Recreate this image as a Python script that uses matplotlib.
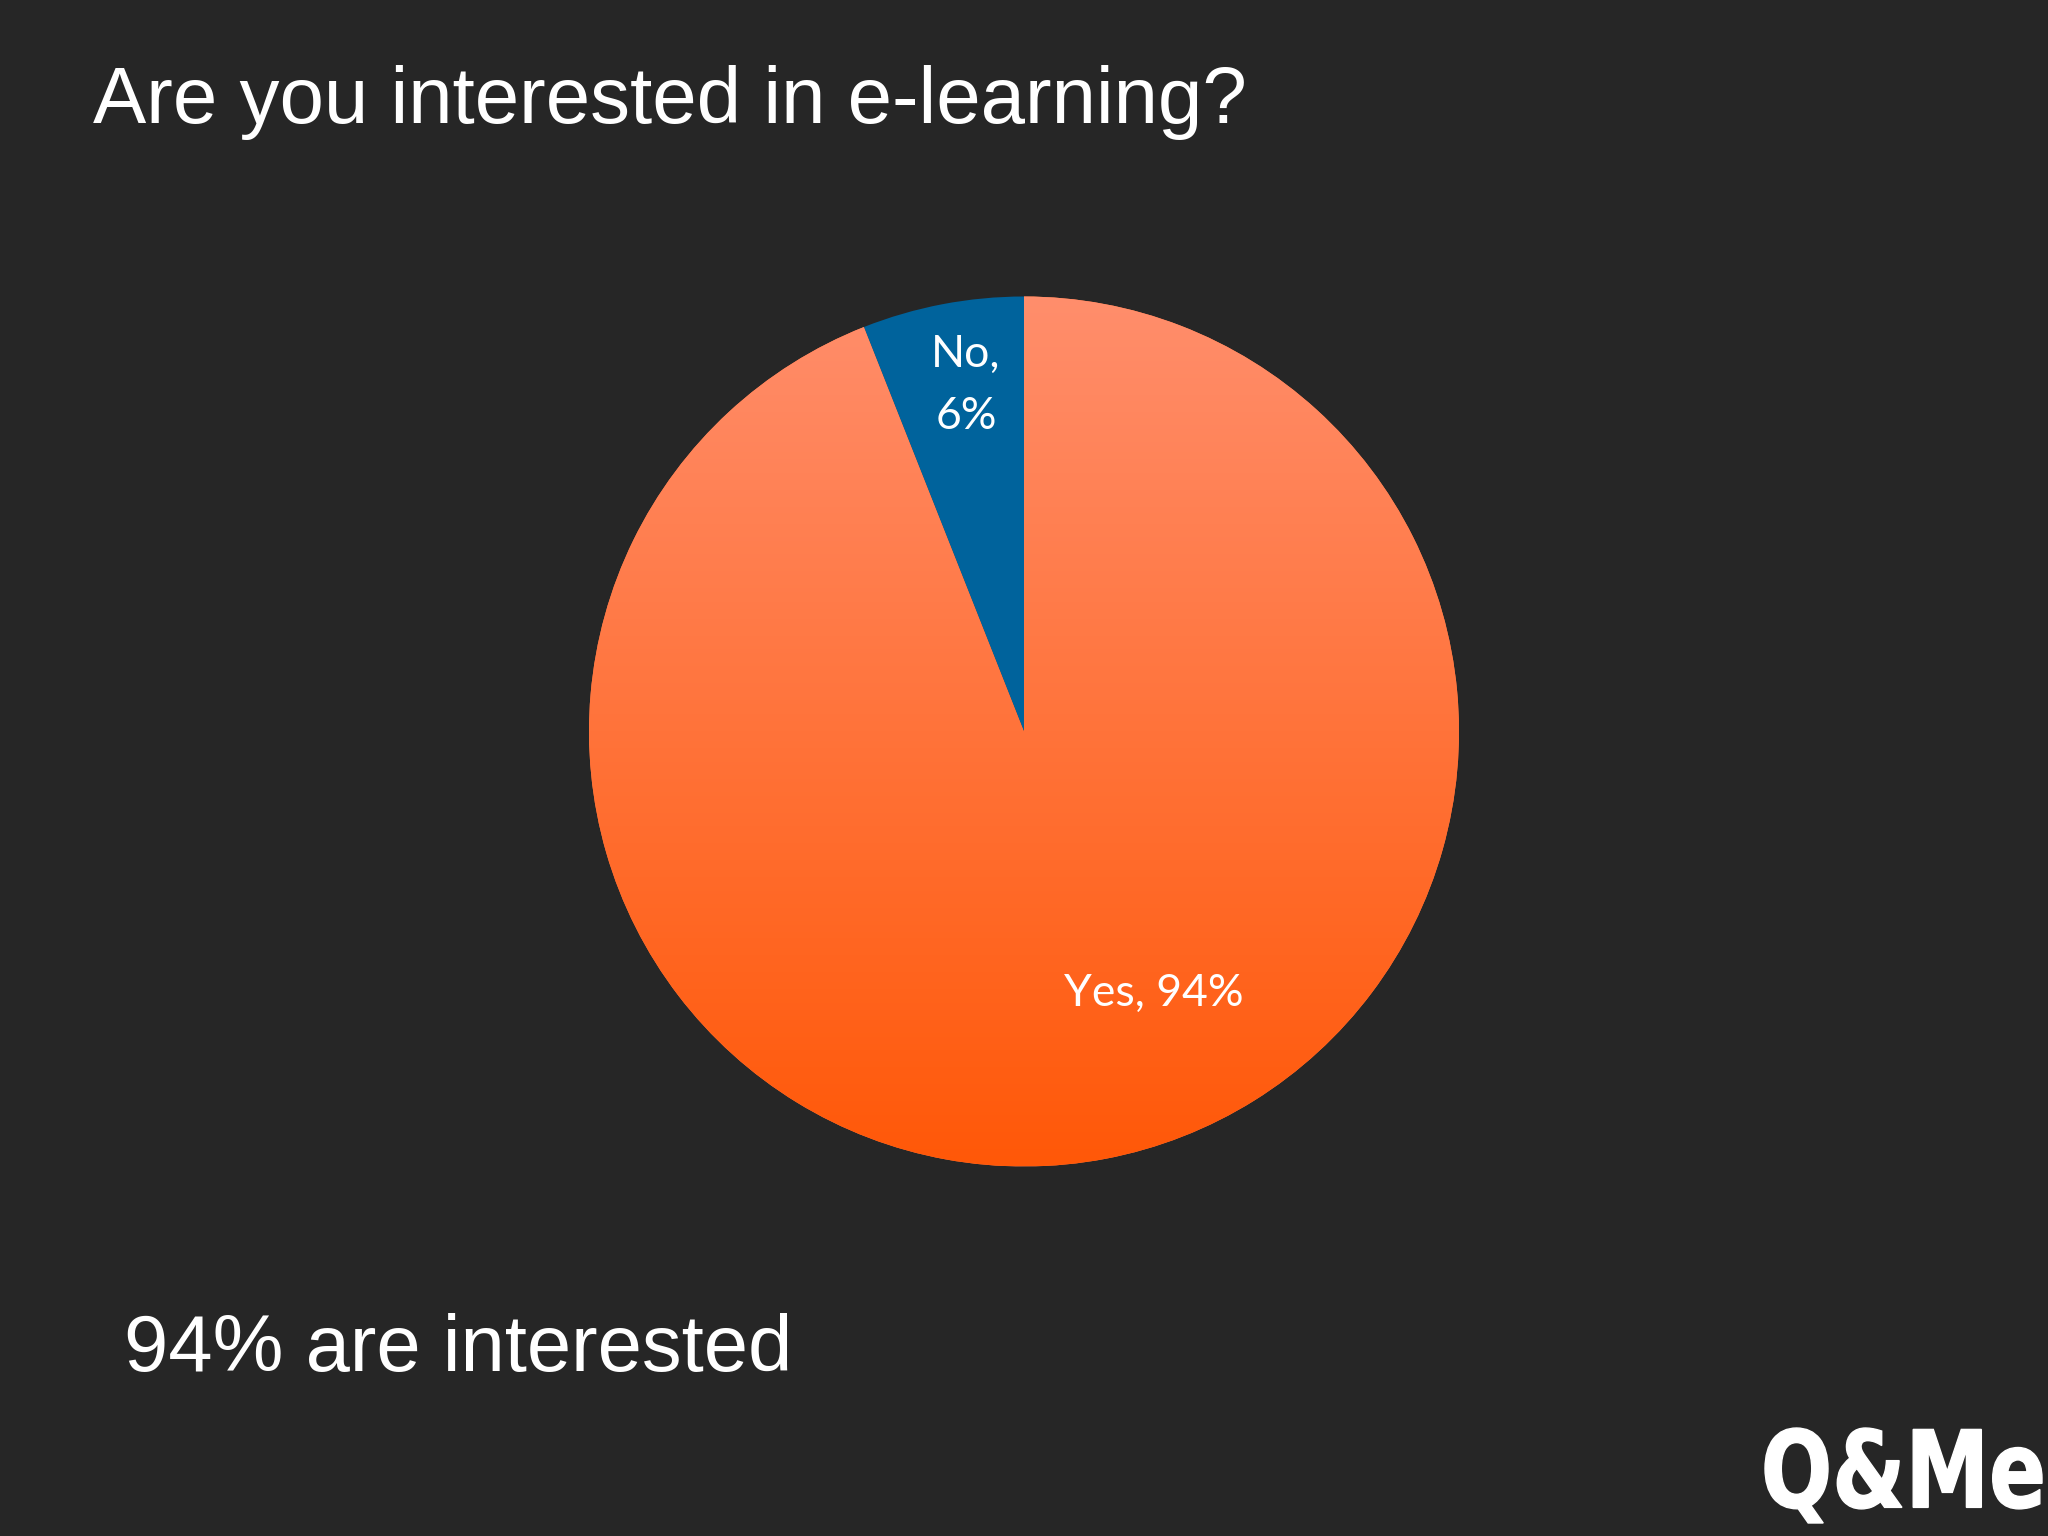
import numpy as np
import matplotlib
matplotlib.use("Agg")
import matplotlib.pyplot as plt
from matplotlib.textpath import TextPath
from matplotlib.font_manager import FontProperties
from matplotlib.patches import PathPatch
from matplotlib.transforms import Affine2D

# data
labels = ["Yes", "No"]
values = [94, 6]
title = "Are you interested in e-learning?"
summary = "94% are interested"

bg = "#262626"
blue = "#00639c"
grad_top = np.array([255, 142, 108]) / 255
grad_bot = np.array([255, 88, 8]) / 255

W, H = 2048, 1536
fig = plt.figure(figsize=(W / 100, H / 100), dpi=100, facecolor=bg)
ax = fig.add_axes([0, 0, 1, 1])
ax.set_facecolor(bg)

cx, cy, r = 1024, 804.5, 435
wedges, _ = ax.pie(values, colors=["#ff7a45", blue], startangle=90, counterclock=False,
                   center=(cx, cy), radius=r, wedgeprops=dict(linewidth=0))

# vertical gradient on the Yes slice
grad = np.linspace(0, 1, 256)[:, None, None]
img = grad_top * (1 - grad) + grad_bot * grad
img = np.repeat(img, 2, axis=1)
im = ax.imshow(img, extent=(cx - r, cx + r, cy - r, cy + r), origin="upper",
               aspect="auto", zorder=wedges[0].get_zorder() + 0.1)
im.set_clip_path(wedges[0])

ax.set_xlim(0, W)
ax.set_ylim(0, H)
ax.set_aspect("auto")
ax.axis("off")

lab_font = ["Lato", "DejaVu Sans"]
ax.text(cx - 58, cy + 346, f"{labels[1]},\n{values[1]}%", ha="center", va="center",
        color="white", fontsize=32, family=lab_font, linespacing=1.66, zorder=5)
ax.text(cx + 130, cy - 262, f"{labels[0]}, {values[0]}%", ha="center", va="center",
        color="white", fontsize=32, family=lab_font, zorder=5)

ax.text(93, 1413, title, ha="left", va="baseline", color="white",
        fontsize=57.5, family=["Liberation Sans", "DejaVu Sans"])
ax.text(124, 165, summary, ha="left", va="baseline", color="white",
        fontsize=57.3, family=["Liberation Sans", "DejaVu Sans"])

# logo
tp = TextPath((0, 0), "Q&Me", size=100,
              prop=FontProperties(family="DejaVu Sans", weight="heavy"))
bb = tp.get_extents()
x0, x1, y0, y1 = 1765, 2042, 1536 - 1523, 1536 - 1428
tr = Affine2D().translate(-bb.x0, -bb.y0).scale((x1 - x0) / bb.width, (y1 - y0) / bb.height).translate(x0, y0)
ax.add_patch(PathPatch(tr.transform_path(tp), facecolor="white", edgecolor="white", lw=1, zorder=6))

fig.savefig("out.png", dpi=100, facecolor=bg)
